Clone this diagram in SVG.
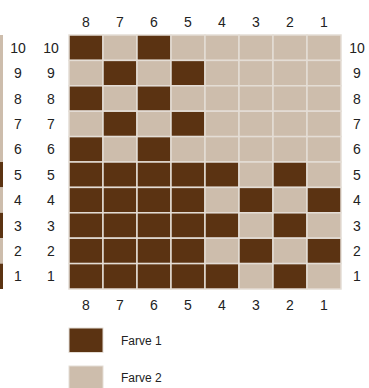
<svg xmlns="http://www.w3.org/2000/svg" width="369" height="388" viewBox="0 0 369 388">
<style>
.d{fill:#5b3312}
.l{fill:#cdbdac}
.c{stroke:#e4ddd5;stroke-width:1.5}
text{font-family:"Liberation Sans",Arial,sans-serif;font-size:14px;fill:#222;text-anchor:middle;dominant-baseline:central}
.lg{font-size:12px;text-anchor:start}
</style>
<rect width="369" height="388" fill="#fff"/>
<g id="edge-strip">
<rect x="0" y="35" width="3" height="127" class="l"/>
<rect x="0" y="162" width="3" height="25.4" class="d"/>
<rect x="0" y="187.4" width="3" height="25.4" class="l"/>
<rect x="0" y="212.8" width="3" height="25.4" class="d"/>
<rect x="0" y="238.2" width="3" height="25.4" class="l"/>
<rect x="0" y="263.6" width="3" height="25.4" class="d"/>
</g>
<g id="col-labels-top">
<text x="86" y="22">8</text><text x="120" y="22">7</text><text x="154" y="22">6</text><text x="188" y="22">5</text><text x="222" y="22">4</text><text x="256" y="22">3</text><text x="290" y="22">2</text><text x="324" y="22">1</text>
</g>
<g id="col-labels-bottom">
<text x="86" y="305">8</text><text x="120" y="305">7</text><text x="154" y="305">6</text><text x="188" y="305">5</text><text x="222" y="305">4</text><text x="256" y="305">3</text><text x="290" y="305">2</text><text x="324" y="305">1</text>
</g>
<g id="row-labels-left1">
<text x="18" y="48">10</text><text x="18" y="73">9</text><text x="18" y="99">8</text><text x="18" y="124">7</text><text x="18" y="149">6</text><text x="18" y="175">5</text><text x="18" y="200">4</text><text x="18" y="226">3</text><text x="18" y="251">2</text><text x="18" y="276">1</text>
</g>
<g id="row-labels-left2">
<text x="51" y="48">10</text><text x="51" y="73">9</text><text x="51" y="99">8</text><text x="51" y="124">7</text><text x="51" y="149">6</text><text x="51" y="175">5</text><text x="51" y="200">4</text><text x="51" y="226">3</text><text x="51" y="251">2</text><text x="51" y="276">1</text>
</g>
<g id="row-labels-right">
<text x="357" y="48">10</text><text x="357" y="73">9</text><text x="357" y="99">8</text><text x="357" y="124">7</text><text x="357" y="149">6</text><text x="357" y="175">5</text><text x="357" y="200">4</text><text x="357" y="226">3</text><text x="357" y="251">2</text><text x="357" y="276">1</text>
</g>
<g id="grid" class="c">
<!-- row 10 -->
<rect x="69" y="35" width="34" height="25.4" class="d"/><rect x="103" y="35" width="34" height="25.4" class="l"/><rect x="137" y="35" width="34" height="25.4" class="d"/><rect x="171" y="35" width="34" height="25.4" class="l"/><rect x="205" y="35" width="34" height="25.4" class="l"/><rect x="239" y="35" width="34" height="25.4" class="l"/><rect x="273" y="35" width="34" height="25.4" class="l"/><rect x="307" y="35" width="34" height="25.4" class="l"/>
<!-- row 9 -->
<rect x="69" y="60.4" width="34" height="25.4" class="l"/><rect x="103" y="60.4" width="34" height="25.4" class="d"/><rect x="137" y="60.4" width="34" height="25.4" class="l"/><rect x="171" y="60.4" width="34" height="25.4" class="d"/><rect x="205" y="60.4" width="34" height="25.4" class="l"/><rect x="239" y="60.4" width="34" height="25.4" class="l"/><rect x="273" y="60.4" width="34" height="25.4" class="l"/><rect x="307" y="60.4" width="34" height="25.4" class="l"/>
<!-- row 8 -->
<rect x="69" y="85.8" width="34" height="25.4" class="d"/><rect x="103" y="85.8" width="34" height="25.4" class="l"/><rect x="137" y="85.8" width="34" height="25.4" class="d"/><rect x="171" y="85.8" width="34" height="25.4" class="l"/><rect x="205" y="85.8" width="34" height="25.4" class="l"/><rect x="239" y="85.8" width="34" height="25.4" class="l"/><rect x="273" y="85.8" width="34" height="25.4" class="l"/><rect x="307" y="85.8" width="34" height="25.4" class="l"/>
<!-- row 7 -->
<rect x="69" y="111.2" width="34" height="25.4" class="l"/><rect x="103" y="111.2" width="34" height="25.4" class="d"/><rect x="137" y="111.2" width="34" height="25.4" class="l"/><rect x="171" y="111.2" width="34" height="25.4" class="d"/><rect x="205" y="111.2" width="34" height="25.4" class="l"/><rect x="239" y="111.2" width="34" height="25.4" class="l"/><rect x="273" y="111.2" width="34" height="25.4" class="l"/><rect x="307" y="111.2" width="34" height="25.4" class="l"/>
<!-- row 6 -->
<rect x="69" y="136.6" width="34" height="25.4" class="d"/><rect x="103" y="136.6" width="34" height="25.4" class="l"/><rect x="137" y="136.6" width="34" height="25.4" class="d"/><rect x="171" y="136.6" width="34" height="25.4" class="l"/><rect x="205" y="136.6" width="34" height="25.4" class="l"/><rect x="239" y="136.6" width="34" height="25.4" class="l"/><rect x="273" y="136.6" width="34" height="25.4" class="l"/><rect x="307" y="136.6" width="34" height="25.4" class="l"/>
<!-- row 5 -->
<rect x="69" y="162" width="34" height="25.4" class="d"/><rect x="103" y="162" width="34" height="25.4" class="d"/><rect x="137" y="162" width="34" height="25.4" class="d"/><rect x="171" y="162" width="34" height="25.4" class="d"/><rect x="205" y="162" width="34" height="25.4" class="d"/><rect x="239" y="162" width="34" height="25.4" class="l"/><rect x="273" y="162" width="34" height="25.4" class="d"/><rect x="307" y="162" width="34" height="25.4" class="l"/>
<!-- row 4 -->
<rect x="69" y="187.4" width="34" height="25.4" class="d"/><rect x="103" y="187.4" width="34" height="25.4" class="d"/><rect x="137" y="187.4" width="34" height="25.4" class="d"/><rect x="171" y="187.4" width="34" height="25.4" class="d"/><rect x="205" y="187.4" width="34" height="25.4" class="l"/><rect x="239" y="187.4" width="34" height="25.4" class="d"/><rect x="273" y="187.4" width="34" height="25.4" class="l"/><rect x="307" y="187.4" width="34" height="25.4" class="d"/>
<!-- row 3 -->
<rect x="69" y="212.8" width="34" height="25.4" class="d"/><rect x="103" y="212.8" width="34" height="25.4" class="d"/><rect x="137" y="212.8" width="34" height="25.4" class="d"/><rect x="171" y="212.8" width="34" height="25.4" class="d"/><rect x="205" y="212.8" width="34" height="25.4" class="d"/><rect x="239" y="212.8" width="34" height="25.4" class="l"/><rect x="273" y="212.8" width="34" height="25.4" class="d"/><rect x="307" y="212.8" width="34" height="25.4" class="l"/>
<!-- row 2 -->
<rect x="69" y="238.2" width="34" height="25.4" class="d"/><rect x="103" y="238.2" width="34" height="25.4" class="d"/><rect x="137" y="238.2" width="34" height="25.4" class="d"/><rect x="171" y="238.2" width="34" height="25.4" class="d"/><rect x="205" y="238.2" width="34" height="25.4" class="l"/><rect x="239" y="238.2" width="34" height="25.4" class="d"/><rect x="273" y="238.2" width="34" height="25.4" class="l"/><rect x="307" y="238.2" width="34" height="25.4" class="d"/>
<!-- row 1 -->
<rect x="69" y="263.6" width="34" height="25.4" class="d"/><rect x="103" y="263.6" width="34" height="25.4" class="d"/><rect x="137" y="263.6" width="34" height="25.4" class="d"/><rect x="171" y="263.6" width="34" height="25.4" class="d"/><rect x="205" y="263.6" width="34" height="25.4" class="d"/><rect x="239" y="263.6" width="34" height="25.4" class="l"/><rect x="273" y="263.6" width="34" height="25.4" class="d"/><rect x="307" y="263.6" width="34" height="25.4" class="l"/>
</g>
<g id="legend-farve1">
<rect x="69" y="328" width="34" height="24.5" class="d" stroke="#e4ddd5" stroke-width="1"/>
<text x="121" y="341" class="lg">Farve 1</text>
</g>
<g id="legend-farve2">
<rect x="69" y="366" width="34" height="24.5" class="l" stroke="#e4ddd5" stroke-width="1"/>
<text x="121" y="378" class="lg">Farve 2</text>
</g>
</svg>
